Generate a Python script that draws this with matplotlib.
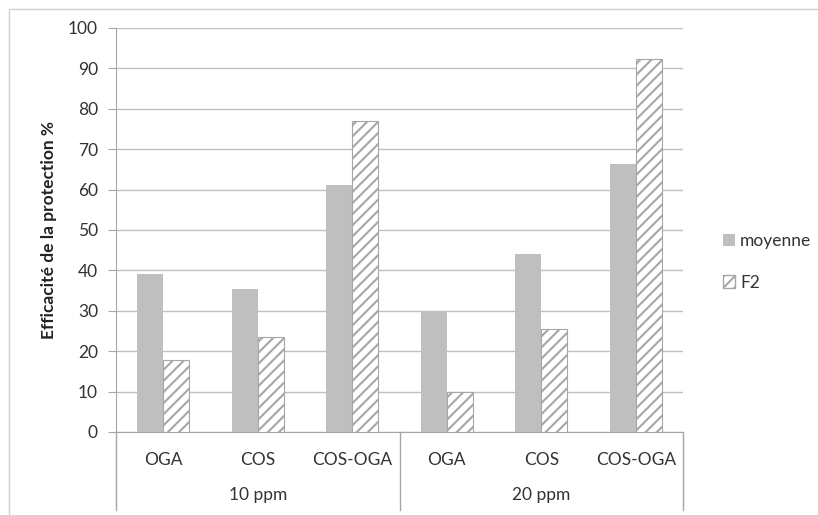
import numpy as np
import matplotlib.pyplot as plt
from matplotlib.patches import Rectangle, Patch

plt.rcParams['font.family'] = ['Lato', 'DejaVu Sans']
plt.rcParams['hatch.linewidth'] = 1.5
plt.rcParams['hatch.color'] = '#a0a0a0'

# data
produits = ['OGA', 'COS', 'COS-OGA', 'OGA', 'COS', 'COS-OGA']
doses = ['10 ppm', '20 ppm']
moyenne = [39.2, 35.4, 61.2, 29.9, 44.0, 66.4]
f2 = [17.9, 23.6, 77.0, 9.9, 25.5, 92.4]

fig = plt.figure(figsize=(8.18, 5.15), dpi=100)
ax = fig.add_axes([116 / 818, 83 / 515, 567 / 818, 404 / 515])

# light frame around the chart area
fig.patches.append(Rectangle((9 / 818, -0.01), 1.0, 1 - 9 / 515 + 0.01,
                             transform=fig.transFigure, fill=False,
                             edgecolor='#d0d0d0', linewidth=1.0))

x = np.arange(len(produits))
w = 0.275
ax.bar(x - w / 2, moyenne, w, color='#bfbfbf', edgecolor='none', zorder=3,
       label='moyenne')
ax.bar(x + w / 2, f2, w, color='white', edgecolor='#a6a6a6', hatch='///',
       linewidth=0.8, zorder=3, label='F2')

ax.set_xlim(-0.5, 5.5)
ax.set_ylim(0, 100)
ax.set_yticks(range(0, 101, 10))
ax.grid(axis='y', color='#bfbfbf', linewidth=1.0, zorder=0)
ax.set_axisbelow(True)

for s in ['top', 'right']:
    ax.spines[s].set_visible(False)
ax.spines['left'].set_color('#a6a6a6')
ax.spines['bottom'].set_color('#a6a6a6')

ax.tick_params(axis='y', length=6, color='#a6a6a6', pad=7, labelsize=12.5,
               labelcolor='#333333')
ax.set_xticks([])

ax.set_ylabel('Efficacité de la protection %', fontsize=12.5,
              fontweight='bold', color='#222222')
ax.yaxis.set_label_coords(-0.104, 0.5)

# two-level category axis
trans = ax.get_xaxis_transform()
for i, p in enumerate(produits):
    ax.text(i, -0.07, p, transform=trans, ha='center', va='center',
            fontsize=12.5, color='#333333')
for j, d in enumerate(doses):
    ax.text(3 * j + 1, -0.155, d, transform=trans, ha='center', va='center',
            fontsize=12.5, color='#333333')
for xs in [-0.5, 2.5, 5.5]:
    ax.plot([xs, xs], [0, -0.193], transform=trans, color='#a6a6a6',
            linewidth=1.0, clip_on=False)

handles = [Patch(facecolor='#bfbfbf', edgecolor='none', label='moyenne'),
           Patch(facecolor='white', edgecolor='#a6a6a6', hatch='///',
                 label='F2')]
fig.legend(handles=handles, loc='center left',
           bbox_to_anchor=(707 / 818, 1 - 262 / 515), frameon=False,
           fontsize=12.5, handlelength=0.7, handleheight=0.7,
           handletextpad=0.3, labelspacing=1.45, labelcolor='#333333')

fig.savefig('out.png', dpi=100)
